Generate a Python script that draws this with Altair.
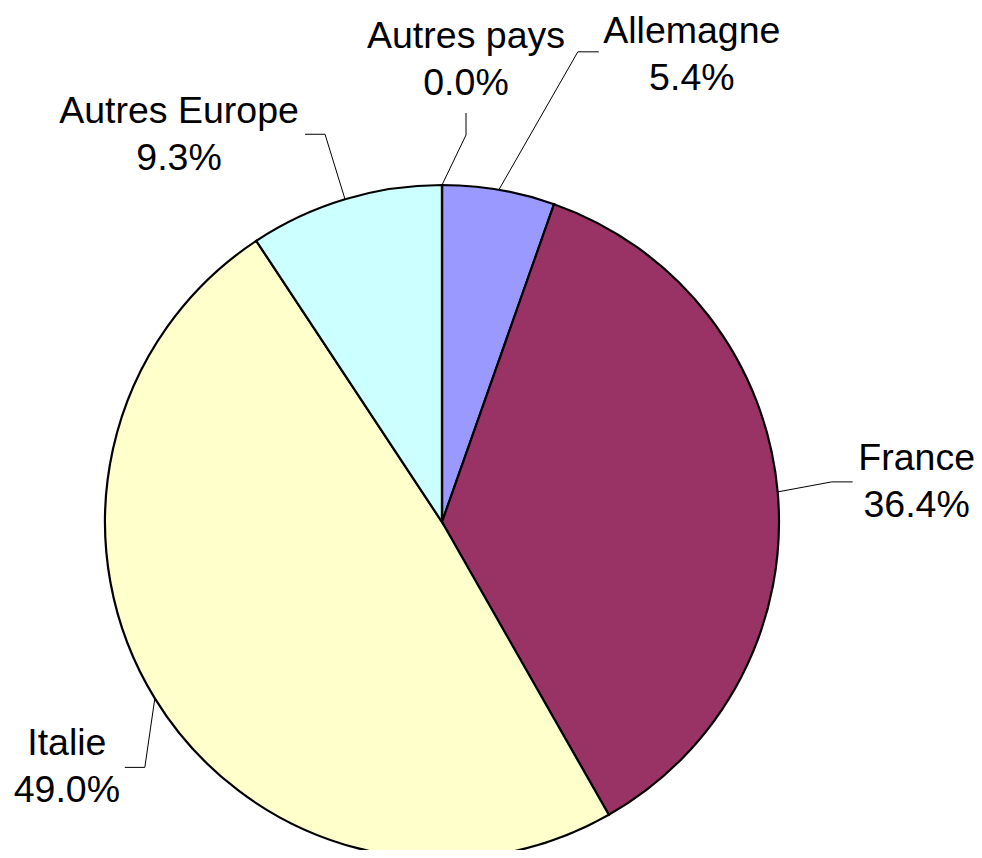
import altair as alt
import pandas as pd

# ---- data ----
categories = ["Allemagne", "France", "Italie", "Autres Europe", "Autres pays"]
shares = [5.4, 36.4, 49.0, 9.3, 0.0]
slice_colors = ["#9999FF", "#993366", "#FFFFCC", "#CCFFFF", "#FFFFFF"]

# ---- layout (pixel offsets from the slice edge point) ----
elbow_dx = [79, 54, -10, -20, 24]
elbow_dy = [-138, -10, 69, -65, -50]
end_dx = [100, 75, -30, -40, 24]
end_dy = [-138, -10, 69, -65, -72]
label_dx = [193, 139, -88, -166, 24]
label_dy = [-147, -22, 57, -76, -137]

MARGIN = 8
CX = 442 - MARGIN
CY = 522 - MARGIN
R = 337

df = pd.DataFrame({
    "category": categories,
    "value": shares,
    "order": list(range(len(categories))),
    "edx": elbow_dx, "edy": elbow_dy,
    "ndx": end_dx, "ndy": end_dy,
    "ldx": label_dx, "ldy": label_dy,
})

base = alt.Chart(df)

pie = base.mark_arc(outerRadius=R, stroke="black", strokeWidth=2.2).encode(
    theta=alt.Theta("value:Q", stack=True),
    color=alt.Color("category:N", scale=alt.Scale(domain=categories, range=slice_colors), legend=None),
    order=alt.Order("order:Q"),
    x=alt.value(CX),
    y=alt.value(CY),
)

geo = base.transform_window(
    cum="sum(value)", sort=[alt.SortField("order")]
).transform_joinaggregate(
    total="sum(value)"
).transform_calculate(
    mid="(datum.cum - datum.value/2) / datum.total * 2 * PI",
).transform_calculate(
    sx=f"{CX} + {R} * sin(datum.mid)",
    sy=f"{CY} - {R} * cos(datum.mid)",
).transform_calculate(
    kx="datum.sx + datum.edx",
    ky="datum.sy + datum.edy",
    ex="datum.sx + datum.ndx",
    ey="datum.sy + datum.ndy",
    lx="datum.sx + datum.ldx",
    ly="datum.sy + datum.ldy",
    label="datum.category + '\\n' + format(datum.value, '.1f') + '%'",
)

seg1 = geo.mark_rule(color="black", strokeWidth=1).encode(
    x=alt.X("sx:Q", scale=None, axis=None),
    y=alt.Y("sy:Q", scale=None, axis=None),
    x2="kx:Q",
    y2="ky:Q",
)
seg2 = geo.mark_rule(color="black", strokeWidth=1).encode(
    x=alt.X("kx:Q", scale=None, axis=None),
    y=alt.Y("ky:Q", scale=None, axis=None),
    x2="ex:Q",
    y2="ey:Q",
)
labels = geo.mark_text(
    align="center", baseline="alphabetic", fontSize=37.5,
    font="Liberation Sans", lineBreak="\n", lineHeight=47, color="black",
).encode(
    x=alt.X("lx:Q", scale=None, axis=None),
    y=alt.Y("ly:Q", scale=None, axis=None),
    text="label:N",
)

chart = alt.layer(pie, seg1, seg2, labels).properties(
    width=966, height=842, padding=0, autosize="none"
).configure_view(stroke=None)

chart.save("out.html", embed_options={"renderer": "svg", "actions": False})
